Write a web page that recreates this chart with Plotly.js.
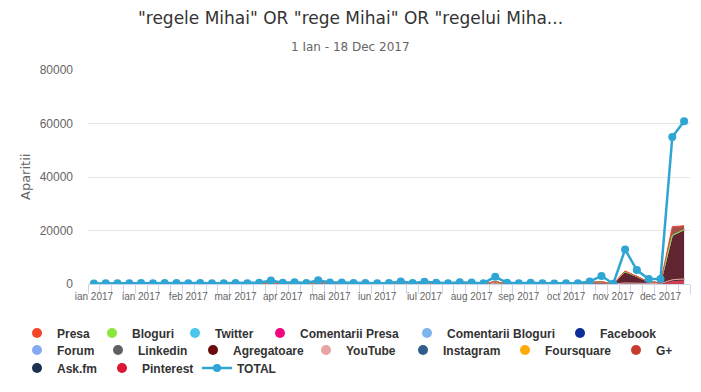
<!DOCTYPE html>
<html>
<head>
<meta charset="utf-8">
<script src="https://cdn.plot.ly/plotly-3.0.1.min.js"></script>
<style>html,body{margin:0;padding:0;background:#fff;}#chart{width:701px;height:392px;}</style>
</head>
<body>
<div id="chart"></div>
<script>
// ---- categories (weeks of 2017) ----
const weeks = ['2017-01-01','2017-01-08','2017-01-15','2017-01-22','2017-01-29','2017-02-05','2017-02-12','2017-02-19','2017-02-26','2017-03-05','2017-03-12','2017-03-19','2017-03-26','2017-04-02','2017-04-09','2017-04-16','2017-04-23','2017-04-30','2017-05-07','2017-05-14','2017-05-21','2017-05-28','2017-06-04','2017-06-11','2017-06-18','2017-06-25','2017-07-02','2017-07-09','2017-07-16','2017-07-23','2017-07-30','2017-08-06','2017-08-13','2017-08-20','2017-08-27','2017-09-03','2017-09-10','2017-09-17','2017-09-24','2017-10-01','2017-10-08','2017-10-15','2017-10-22','2017-10-29','2017-11-05','2017-11-12','2017-11-19','2017-11-26','2017-12-03','2017-12-10','2017-12-17'];
// labels shown on every 4th week
const tickLabels = ['ian 2017','ian 2017','feb 2017','mar 2017','apr 2017','mai 2017','iun 2017','iul 2017','aug 2017','sep 2017','oct 2017','nov 2017','dec 2017'];

// ---- series values ----
const presa        = [0,0,0,0,0,0,0,0,0,0,0,0,0,0,0,0,0,0,0,0,0,0,0,0,0,0,0,0,0,0,0,0,0,0,0,0,0,0,0,0,0,0,0,0,0,300,0,0,0,3200,1500];
const bloguri      = [0,0,0,0,0,0,0,0,0,0,0,0,0,0,0,0,0,0,0,0,0,0,0,0,0,0,0,0,0,0,0,0,0,0,0,0,0,0,0,0,0,0,0,0,0,0,0,0,0,0,0];
const twitter      = [0,0,0,0,0,0,0,0,0,0,0,0,0,0,0,0,0,0,0,0,0,0,0,0,0,0,0,0,0,0,0,0,0,0,0,0,0,0,0,0,0,0,0,0,0,0,0,0,0,0,0];
const comPresa     = [0,0,0,0,0,0,0,0,0,0,0,0,0,0,0,0,0,0,0,0,0,0,0,0,0,0,0,0,0,0,0,0,0,0,0,0,0,0,0,0,0,0,0,0,0,0,0,0,0,0,0];
const comBloguri   = [0,0,0,0,0,0,0,0,0,0,0,0,0,0,0,0,0,0,0,0,0,0,0,0,0,0,0,0,0,0,0,0,0,0,0,0,0,0,0,0,0,0,0,0,0,0,0,0,0,0,0];
const facebook     = [0,0,0,0,0,0,0,0,0,0,0,0,0,0,0,0,0,0,0,0,0,0,0,0,0,0,0,0,0,0,0,0,0,0,0,0,0,0,0,0,0,0,0,0,0,0,0,0,0,0,0];
const forum        = [0,0,0,0,0,0,0,0,0,0,0,0,0,0,0,0,0,0,0,0,0,0,0,0,0,0,0,0,0,0,0,0,0,0,0,0,0,0,0,0,0,0,0,0,0,0,0,0,0,0,0];
const linkedin     = [0,0,0,0,0,0,0,0,0,0,0,0,0,0,0,0,0,0,0,0,0,0,0,0,0,0,0,0,0,0,0,0,0,0,0,0,0,0,0,0,0,0,0,0,0,0,0,0,0,0,0];
const agregatoare  = [0,0,0,0,0,0,0,0,0,0,0,0,0,0,0,350,0,0,0,450,150,0,0,0,0,0,150,0,200,0,0,0,0,0,700,0,0,0,0,0,0,0,400,600,0,4200,2500,600,300,16600,18400];
const youtube      = [0,0,0,0,0,0,0,0,0,0,0,0,0,0,0,0,0,0,0,0,0,0,0,0,0,0,0,0,0,0,0,0,0,0,0,0,0,0,0,0,0,0,0,0,0,0,0,0,0,0,0];
const instagram    = [0,0,0,0,0,0,0,0,0,0,0,0,0,0,0,0,0,0,0,0,0,0,0,0,0,0,0,0,0,0,0,0,0,0,0,0,0,0,0,0,0,0,0,0,0,0,0,0,0,0,0];
const foursquare   = [0,0,0,0,0,0,0,0,0,0,0,0,0,0,0,0,0,0,0,0,0,0,0,0,0,0,0,0,0,0,0,0,0,0,0,0,0,0,0,0,0,0,0,0,0,0,0,0,0,0,0];
const gplus        = [0,0,0,0,0,0,0,0,0,0,0,0,0,0,0,0,0,0,0,0,0,0,0,0,0,0,0,0,0,0,0,0,0,0,0,0,0,0,0,0,0,0,0,0,0,0,0,0,0,300,300];
const askfm        = [0,0,0,0,0,0,0,0,0,0,0,0,0,0,0,0,0,0,0,0,0,0,0,0,0,0,0,0,0,0,0,0,0,0,0,0,0,0,0,0,0,0,0,0,0,0,0,0,0,0,0];
const pinterest    = [30,40,40,50,40,50,40,50,40,50,40,50,60,50,60,120,60,70,50,130,80,60,50,50,40,50,80,50,90,50,40,60,50,40,150,50,40,50,40,30,40,40,90,200,20,400,300,200,150,1300,1600];
const total        = [150,300,250,300,350,300,400,350,300,400,250,300,400,300,450,1300,500,650,350,1400,550,600,400,350,300,350,900,400,850,450,300,700,550,300,2700,450,300,450,250,200,250,300,900,3000,100,12900,5200,1900,1900,55000,60800];

const seriesNames  = ['Presa','Bloguri','Twitter','Comentarii Presa','Comentarii Bloguri','Facebook','Forum','Linkedin','Agregatoare','YouTube','Instagram','Foursquare','G+','Ask.fm','Pinterest'];
const seriesValues = [presa,bloguri,twitter,comPresa,comBloguri,facebook,forum,linkedin,agregatoare,youtube,instagram,foursquare,gplus,askfm,pinterest];
const seriesColors = ['#f4472a','#8de53f','#4ac5eb','#f0077f','#7cb5ec','#0b2d9a','#87a9f3','#606064','#6a0a0a','#e8a3a3','#2f5e8c','#fdaa0a','#c73a2d','#1b3351','#dc1634'];
const fillColors   = {'Presa':'rgba(160,66,60,0.92)','Agregatoare':'rgba(88,24,38,0.95)','G+':'rgba(190,60,50,0.9)','Pinterest':'rgba(205,40,62,0.9)'};
const totalName = 'TOTAL', totalColor = '#2fa5d3';
const yTitle = 'Aparitii';

// legend item placement (marker centre in px)
const legendPos = {
  'Presa':[39,333],'Bloguri':[114,333],'Twitter':[197,333],'Comentarii Presa':[282,333],'Comentarii Bloguri':[429,333],'Facebook':[582,333],
  'Forum':[39,350],'Linkedin':[120,350],'Agregatoare':[215,350],'YouTube':[328,350],'Instagram':[425,350],'Foursquare':[527,350],'G+':[638,350],
  'Ask.fm':[39,368],'Pinterest':[124,368],'TOTAL':[219,368]
};
const W = 701, H = 392, PL = 88, PR = 690, PT = 70, PB = 284;

const traces = [];
// stacked areas: the first series sits on top of the stack, so add in reverse
for (let i = seriesNames.length - 1; i >= 0; i--) {
  const n = seriesNames[i];
  traces.push({
    type:'scatter', mode:'lines', x: weeks, y: seriesValues[i], name: n,
    stackgroup:'src', line:{color: seriesColors[i], width:1},
    fillcolor: fillColors[n] || seriesColors[i],
    showlegend:false, hoverinfo:'skip'
  });
}
traces.push({
  type:'scatter', mode:'lines+markers', x: weeks, y: total, name: '<b>' + totalName + '</b>',
  line:{color: totalColor, width:2.5}, marker:{color: totalColor, size:8},
  legend:'legend16', showlegend:true
});
const layout = {
  width: W, height: H,
  paper_bgcolor:'#fff', plot_bgcolor:'#fff',
  margin:{l:PL, r:W-PR, t:PT, b:H-PB, autoexpand:false},
  font:{family:'Liberation Sans, Arial, sans-serif', color:'#333'},
  title:{text:'"regele Mihai" OR "rege Mihai" OR "regelui Miha...', x:0.5, xref:'container', y:1-18/H, yref:'container', yanchor:'middle', xanchor:'center',
         font:{family:'DejaVu Sans, sans-serif', size:17, color:'#333'}},
  annotations:[
    {text:'1 Ian - 18 Dec 2017', xref:'paper', yref:'paper', x:(350.5-PL)/(PR-PL), y:(PB-47)/(PB-PT), xanchor:'center', yanchor:'middle', showarrow:false,
     font:{family:'DejaVu Sans, sans-serif', size:12, color:'#666'}},
    {text:yTitle, xref:'paper', yref:'paper', x:(25-PL)/(PR-PL), y:0.5, xanchor:'center', yanchor:'middle', textangle:-90, showarrow:false,
     font:{family:'DejaVu Sans, sans-serif', size:13, color:'#666'}}
  ],
  xaxis:{type:'category', range:[-0.5, weeks.length-0.5], automargin:false,
         tickvals: weeks, ticktext: weeks.map((w,i)=> i%4===0 ? tickLabels[i/4] : ''), tickangle:0,
         tickson:'boundaries', ticks:'outside', ticklen:9, tickcolor:'#ccd6eb', tickwidth:1, ticklabelstandoff:3,
         showline:true, linecolor:'#ccd6eb', linewidth:1, showgrid:false, zeroline:false,
         tickfont:{family:'Liberation Sans, Arial, sans-serif', size:10, color:'#666'}},
  yaxis:{range:[0,80000], automargin:false, tickvals:[0,20000,40000,60000,80000], ticktext:['0','20000','40000','60000','80000'],
         showgrid:true, gridcolor:'#e6e6e6', gridwidth:1, zeroline:false, showline:false, ticks:'',
         ticklabelstandoff:14,
         tickfont:{family:'Liberation Sans, Arial, sans-serif', size:12, color:'#666'}},
  hovermode:false
};
const allNames = seriesNames.concat([totalName]);
allNames.forEach((n, k) => {
  const key = k === 0 ? 'legend' : 'legend' + (k+1);
  const p = legendPos[n];
  layout[key] = {x:(p[0]-22)/W, xref:'container', y:1-p[1]/H, yref:'container', xanchor:'left', yanchor:'middle',
                 bgcolor:'rgba(0,0,0,0)', borderwidth:0,
                 font:{family:'Liberation Sans, Arial, sans-serif', size:12, color:'#333'}};
  if (n !== totalName) {
    const i = seriesNames.indexOf(n);
    traces.push({type:'scatter', mode:'markers', x:[null], y:[null], name:'<b>' + n + '</b>',
                 marker:{color: seriesColors[i], size:10, symbol:'circle'},
                 legend:key, showlegend:true, hoverinfo:'skip'});
  }
});
Plotly.newPlot('chart', traces, layout, {displayModeBar:false, staticPlot:true});
</script>
</body>
</html>
